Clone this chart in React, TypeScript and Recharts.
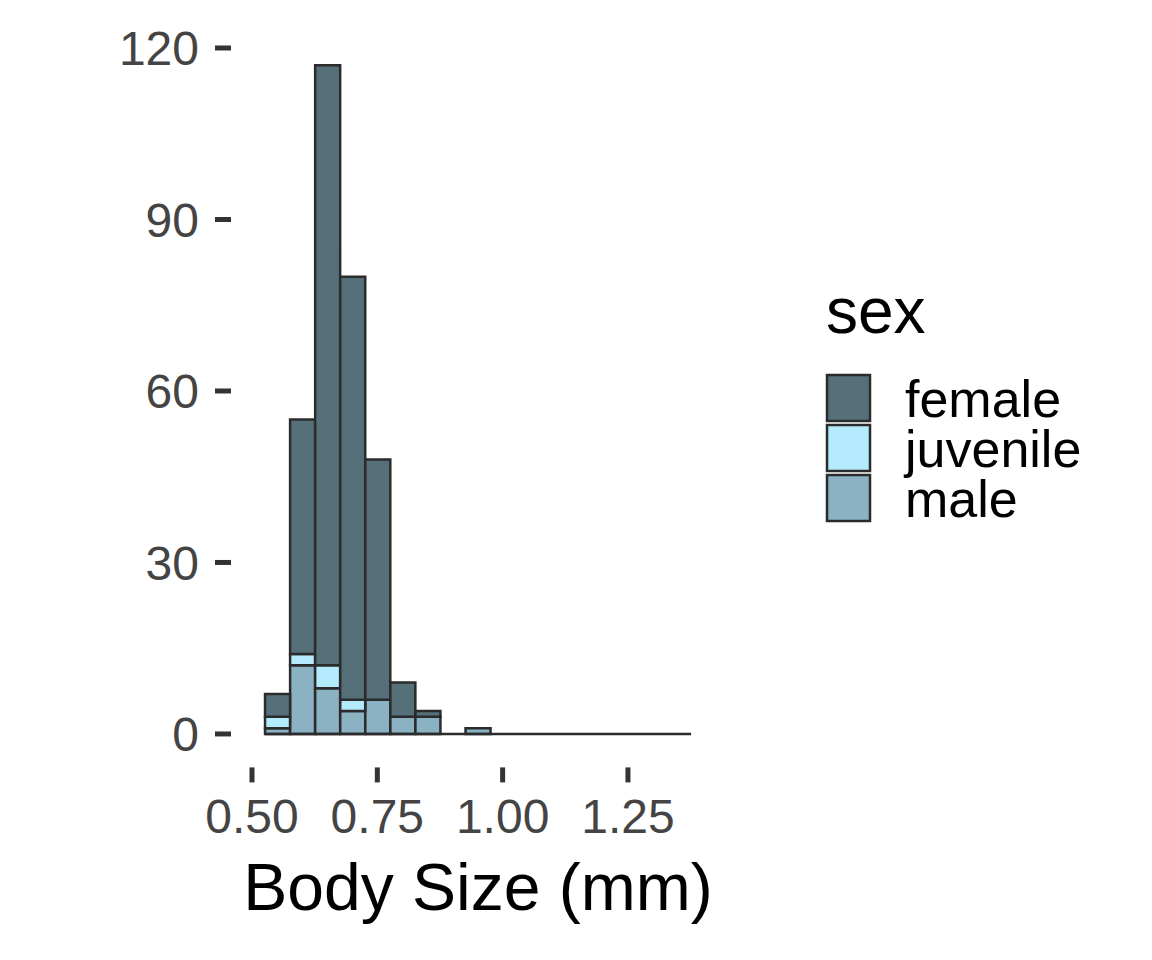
import { BarChart, Bar, XAxis, YAxis, ReferenceLine } from 'recharts'

// histogram bins (mm), width 0.05
const binMids = [0.551, 0.601, 0.651, 0.701, 0.751, 0.801, 0.851, 0.901, 0.951, 1.001, 1.051, 1.101, 1.151, 1.201, 1.251, 1.301, 1.351]
const binLow = 0.526
const binHigh = 1.376

const maleCounts = [1, 12, 8, 4, 6, 3, 3, 0, 1, 0, 0, 0, 0, 0, 0, 0, 0]
const juvenileCounts = [2, 2, 4, 2, 0, 0, 0, 0, 0, 0, 0, 0, 0, 0, 0, 0, 0]
const femaleCounts = [4, 41, 105, 74, 42, 6, 1, 0, 0, 0, 0, 0, 0, 0, 0, 0, 0]

const xTicks = [0.5, 0.75, 1.0, 1.25]
const yTicks = [0, 30, 60, 90, 120]

const groups = ['female', 'juvenile', 'male']
const colors: Record<string, string> = {
  female: '#56707A',
  juvenile: '#B3EBFD',
  male: '#8AB2C3',
}

const data = binMids.map((mid, i) => ({
  size: mid,
  male: maleCounts[i],
  juvenile: juvenileCounts[i],
  female: femaleCounts[i],
}))

const FONT = '"Liberation Sans", Arial, Helvetica, sans-serif'
const OUTLINE = '#2b2b2b'
const TICK = '#333333'

function SexLegend() {
  return (
    <svg
      width={330}
      height={300}
      style={{ position: 'absolute', left: 810, top: 250 }}
    >
      <text x={16} y={83} fontFamily={FONT} fontSize={64} fill="#000">
        sex
      </text>
      {groups.map((g, i) => (
        <g key={g}>
          <rect
            x={17}
            y={125 + i * 50}
            width={43}
            height={46}
            fill={colors[g]}
            stroke={OUTLINE}
            strokeWidth={2.5}
          />
          <text x={95} y={167 + i * 50} fontFamily={FONT} fontSize={52} fill="#000">
            {g}
          </text>
        </g>
      ))}
    </svg>
  )
}

export default function App() {
  return (
    <div style={{ position: 'absolute', left: 0, top: 0, width: 1152, height: 960, background: '#fff' }}>
      <BarChart
        width={1152}
        height={960}
        data={data}
        margin={{ top: 31.7, right: 427, bottom: 0, left: 0 }}
        barCategoryGap={0}
        barGap={0}
      >
        <XAxis
          type="number"
          dataKey="size"
          domain={[0.4581, 1.4436]}
          allowDataOverflow
          ticks={xTicks}
          tickFormatter={(v: number) => v.toFixed(2)}
          axisLine={false}
          stroke={TICK}
          tickLine={{ stroke: TICK, strokeWidth: 5 }}
          tickSize={15}
          tickMargin={17}
          height={192.6}
          tick={{ fontFamily: FONT, fontSize: 48, fill: '#444444' }}
          label={{
            value: 'Body Size (mm)',
            position: 'insideBottom',
            offset: 50,
            fontFamily: FONT,
            fontSize: 66,
            fill: '#000',
          }}
        />
        <YAxis
          type="number"
          domain={[-5.85, 122.85]}
          allowDataOverflow
          ticks={yTicks}
          axisLine={false}
          stroke={TICK}
          tickLine={{ stroke: TICK, strokeWidth: 5 }}
          tickSize={16}
          tickMargin={16}
          width={231}
          tick={{ fontFamily: FONT, fontSize: 48, fill: '#444444' }}
        />
        <ReferenceLine
          segment={[
            { x: binLow, y: 0 },
            { x: binHigh, y: 0 },
          ]}
          stroke={OUTLINE}
          strokeWidth={2.5}
        />
        {['male', 'juvenile', 'female'].map((g) => (
          <Bar
            key={g}
            dataKey={g}
            stackId="sex"
            fill={colors[g]}
            stroke={OUTLINE}
            strokeWidth={2.5}
            isAnimationActive={false}
          />
        ))}
      </BarChart>
      <SexLegend />
    </div>
  )
}
